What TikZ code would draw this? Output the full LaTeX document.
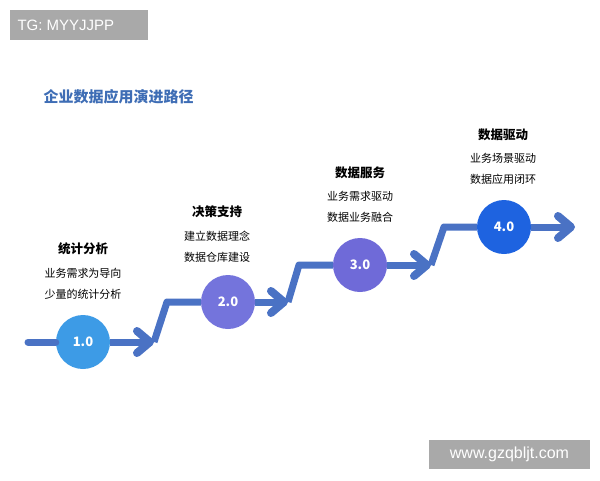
\documentclass[tikz,border=0pt]{standalone}
\usepackage{fontspec}
\setmainfont{Noto Sans CJK SC}
\newfontfamily\wmfont{Liberation Sans}
\usetikzlibrary{arrows.meta}

\definecolor{flowblue}{HTML}{4A72C4}
\definecolor{titleblue}{HTML}{3E6DB5}
\definecolor{stageA}{HTML}{3D9BE6}
\definecolor{stageB}{HTML}{7474DC}
\definecolor{stageC}{HTML}{6F6AD8}
\definecolor{stageD}{HTML}{1E63E0}
\definecolor{wmgray}{HTML}{A9A9A9}

\tikzset{
  flow/.style={draw=flowblue, line width=7pt, line join=round},
  tipped/.style={-{Straight Barb[length=13pt,width=22pt,line width=8pt,round]}},
  stage/.style={circle, minimum size=54pt, inner sep=0pt, text=white,
    font=\fontsize{13}{15}\selectfont\bfseries},
  head/.style={font=\fontsize{12.5}{14}\selectfont\bfseries},
  desc/.style={align=center, font=\fontsize{11}{21}\selectfont}
}

\begin{document}
\begin{tikzpicture}[x=1pt,y=-1pt]
\useasboundingbox (0,0) rectangle (600,480);

% watermarks
\fill[wmgray] (10,10) rectangle (148,40);
\node[text=white, font=\wmfont\fontsize{15}{17}\selectfont, anchor=west] (tg) at (14,25) {TG: MYYJJPP};
\fill[wmgray] (429,440) rectangle (590,469);
\node[text=white, font=\wmfont\fontsize{16}{18}\selectfont] (web) at (509.5,454.5) {www.gzqbljt.com};

\node[titleblue, font=\fontsize{15}{17}\selectfont\bfseries, anchor=west] (title) at (40,97) {企业数据应用演进路径};

% stages
\node[stage, fill=stageA] (c1) at (83,342) {1.0};
\node[stage, fill=stageB] (c2) at (228,302) {2.0};
\node[stage, fill=stageC] (c3) at (360,265) {3.0};
\node[stage, fill=stageD] (c4) at (504,227) {4.0};

\coordinate (s0) at (28,342);
\coordinate (t1) at (154,342);
\coordinate (b1) at (167,302);
\coordinate (t2) at (288,302);
\coordinate (b2) at (299,265);
\coordinate (t3) at (431,265);
\coordinate (b3) at (444,227);
\coordinate (t4) at (575,227);

\draw[flow, line cap=round] (s0) -- (c1);
\draw[flow, tipped] (c1) -- (t1);
\draw[flow] (t1) -- (b1) -- (c2);
\draw[flow, tipped] (c2) -- (t2);
\draw[flow] (t2) -- (b2) -- (c3);
\draw[flow, tipped] (c3) -- (t3);
\draw[flow] (t3) -- (b3) -- (c4);
\draw[flow, tipped] (c4) -- (t4);

% labels
\node[head] (h1) at (83,249) {统计分析};
\node[desc] (d1) at (83,283.5) {业务需求为导向\\少量的统计分析};
\node[head] (h2) at (217,212) {决策支持};
\node[desc] (d2) at (217,247) {建立数据理念\\数据仓库建设};
\node[head] (h3) at (360,173) {数据服务};
\node[desc] (d3) at (360,206.5) {业务需求驱动\\数据业务融合};
\node[head] (h4) at (503,135) {数据驱动};
\node[desc] (d4) at (503,168.5) {业务场景驱动\\数据应用闭环};
\end{tikzpicture}
\end{document}
